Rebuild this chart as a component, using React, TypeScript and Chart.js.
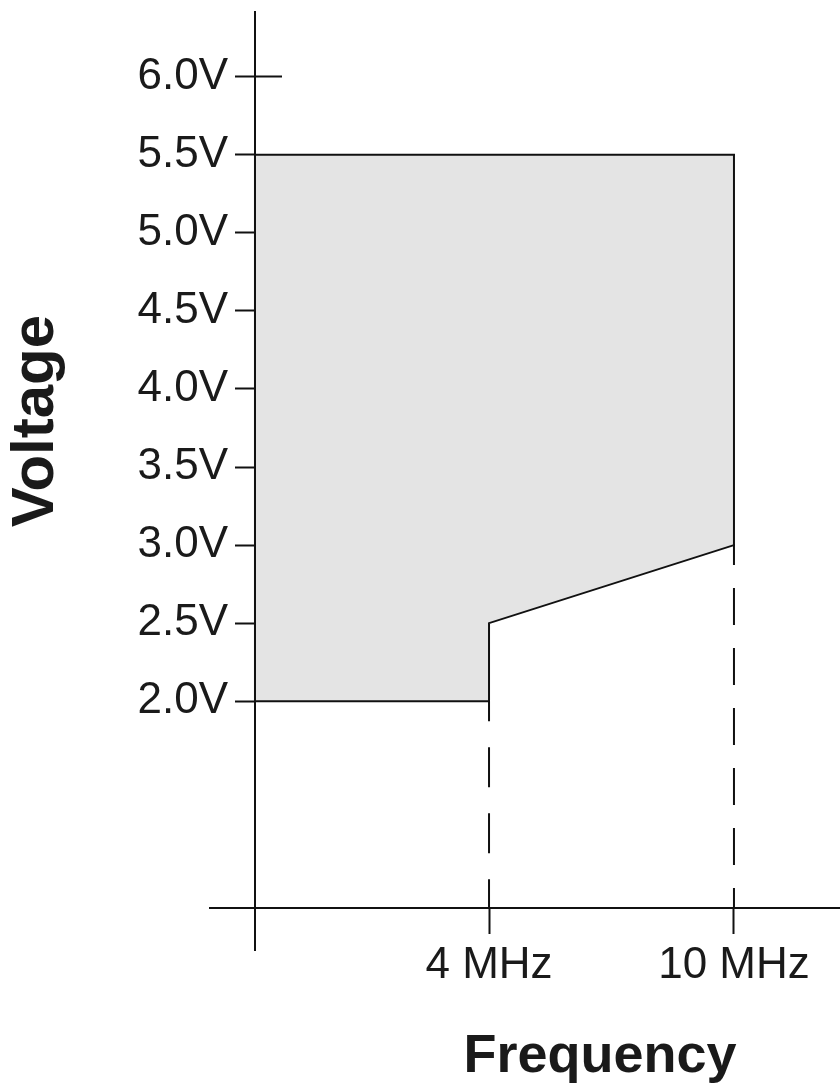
import React, { useEffect, useRef } from 'react';
import { Chart, registerables, LinearScale } from 'chart.js';

// ---------------- data ----------------
const FREQ_TICKS_MHZ = [4, 10];
const VOLT_TICKS = [2.0, 2.5, 3.0, 3.5, 4.0, 4.5, 5.0, 5.5, 6.0];
// safe operating area outline (MHz, V), closed polygon
const AREA_FREQ = [0, 4, 4, 10, 10, 0, 0];
const AREA_VOLT = [2.0, 2.0, 2.5, 3.0, 5.5, 5.5, 2.0];
// dashed guides from the area corners down to the frequency axis
const GUIDE_FREQ = [4, 10];
const GUIDE_VOLT = [2.0, 3.0];
// voltage tick that also crosses to the right of the axis
const CROSS_TICK_VOLT = [6.0];
const X_TITLE = 'Frequency';
const Y_TITLE = 'Voltage';

// ---------------- scale configuration ----------------
const Y_MIN = 0.406;
const Y_MAX = 6.415;
const X_AXIS_AT_VOLT = 0.675; // where the frequency axis crosses the voltage scale
const CROSS_TICK_AT_MHZ = 0.46; // right end of the crossing 6.0V tick
const LABEL_ANCHOR_MHZ = -0.46; // right edge of the voltage tick labels
// schematic (not to scale) frequency axis: value -> fraction of axis length
const X_KNOTS = [
  { value: 0, at: 0.0714 },
  { value: 4, at: 0.4429 },
  { value: 10, at: 0.8317 },
];

const FONT = '"Liberation Sans", Arial, Helvetica, sans-serif';
const TEXT_COLOR = '#1a1a1a';
const LINE_COLOR = '#111111';
const FILL_COLOR = '#e4e4e4';
const GUIDE_DASHES = [[40, 26], [37, 23]];
const GUIDE_OFFSETS = [20, 17];

class SchematicScale extends (LinearScale as any) {
  static id = 'schematic';
  static defaults = (LinearScale as any).defaults;

  getPixelForValue(value: any) {
    if (value === null || value === undefined || isNaN(value)) return NaN;
    const k = X_KNOTS;
    let i = 0;
    while (i < k.length - 2 && value > k[i + 1].value) i++;
    const a = k[i];
    const b = k[i + 1];
    const d = a.at + ((value - a.value) / (b.value - a.value)) * (b.at - a.at);
    return (this as any).getPixelForDecimal(d);
  }

  getValueForPixel(pixel: number) {
    const d = (this as any).getDecimalForPixel(pixel);
    const k = X_KNOTS;
    let i = 0;
    while (i < k.length - 2 && d > k[i + 1].at) i++;
    const a = k[i];
    const b = k[i + 1];
    return a.value + ((d - a.at) / (b.at - a.at)) * (b.value - a.value);
  }
}

Chart.register(...registerables);
Chart.register(SchematicScale as any);

const axisTitles = {
  id: 'axisTitles',
  afterDraw(chart: any) {
    const { ctx } = chart;
    ctx.save();
    ctx.fillStyle = TEXT_COLOR;
    ctx.textAlign = 'center';
    ctx.textBaseline = 'alphabetic';
    ctx.font = `bold 54px ${FONT}`;
    ctx.fillText(X_TITLE, 600, 1072);
    ctx.translate(53, 421);
    ctx.rotate(-Math.PI / 2);
    ctx.font = `bold 60px ${FONT}`;
    ctx.fillText(Y_TITLE, 0, 0);
    ctx.restore();
  },
};

const voltTicks = (s: any) => {
  s.ticks = VOLT_TICKS.map((v) => ({ value: v }));
};

export default function App() {
  const canvasRef = useRef<HTMLCanvasElement | null>(null);

  useEffect(() => {
    const canvas = canvasRef.current;
    if (!canvas) return;

    const areaData = AREA_FREQ.map((x, i) => ({ x, y: AREA_VOLT[i] }));
    const guides = GUIDE_FREQ.map((f, i) => ({
      label: `${f} MHz guide`,
      data: [
        { x: f, y: GUIDE_VOLT[i] },
        { x: f, y: X_AXIS_AT_VOLT },
      ],
      borderColor: LINE_COLOR,
      borderWidth: 2,
      borderDash: GUIDE_DASHES[i],
      borderDashOffset: GUIDE_OFFSETS[i],
      fill: false,
      pointRadius: 0,
      tension: 0,
      xAxisID: 'x',
      yAxisID: 'y',
    }));

    const chart = new Chart(canvas, {
      type: 'line',
      data: {
        datasets: [
          {
            label: 'Operating area',
            data: areaData,
            borderColor: LINE_COLOR,
            borderWidth: 2,
            borderJoinStyle: 'miter',
            backgroundColor: FILL_COLOR,
            fill: 'shape',
            pointRadius: 0,
            tension: 0,
            xAxisID: 'x',
            yAxisID: 'y',
          } as any,
          ...(guides as any[]),
        ],
      },
      options: {
        responsive: false,
        animation: false,
        devicePixelRatio: 1,
        events: [],
        layout: { padding: { top: 12, bottom: 140, left: 210, right: 0 } },
        plugins: {
          legend: { display: false },
          tooltip: { enabled: false },
          title: { display: false },
        },
        scales: {
          x: {
            type: 'schematic' as any,
            position: { y: X_AXIS_AT_VOLT } as any,
            min: 0,
            max: 10,
            afterBuildTicks: (s: any) => {
              s.ticks = FREQ_TICKS_MHZ.map((v) => ({ value: v }));
            },
            ticks: {
              callback: (v: any) => `${v} MHz`,
              font: { family: FONT, size: 44 },
              color: TEXT_COLOR,
              padding: 6,
              autoSkip: false,
              maxRotation: 0,
              minRotation: 0,
            },
            grid: {
              drawOnChartArea: false,
              drawTicks: true,
              tickLength: 25,
              tickWidth: 2,
              tickColor: LINE_COLOR,
            },
            border: { display: true, color: LINE_COLOR, width: 2, z: 1 },
          } as any,
          y: {
            type: 'linear',
            position: { x: LABEL_ANCHOR_MHZ } as any,
            min: Y_MIN,
            max: Y_MAX,
            afterBuildTicks: voltTicks,
            afterFit: (s: any) => {
              s.paddingTop = 0;
              s.paddingBottom = 0;
            },
            ticks: {
              callback: (v: any) => `${Number(v).toFixed(1)}V`,
              font: { family: FONT, size: 44 },
              color: TEXT_COLOR,
              padding: 0,
              autoSkip: false,
            },
            grid: { display: false, drawTicks: false },
            border: { display: false },
          } as any,
          yAxis: {
            type: 'linear',
            position: { x: 0 } as any,
            min: Y_MIN,
            max: Y_MAX,
            afterBuildTicks: voltTicks,
            ticks: { display: false },
            grid: {
              drawOnChartArea: false,
              drawTicks: true,
              tickLength: 19,
              tickWidth: 2,
              tickColor: LINE_COLOR,
            },
            border: { display: true, color: LINE_COLOR, width: 2, z: 1 },
          } as any,
          yCross: {
            type: 'linear',
            position: { x: CROSS_TICK_AT_MHZ } as any,
            min: Y_MIN,
            max: Y_MAX,
            afterBuildTicks: (s: any) => {
              s.ticks = CROSS_TICK_VOLT.map((v) => ({ value: v }));
            },
            ticks: { display: false },
            grid: {
              drawOnChartArea: false,
              drawTicks: true,
              tickLength: 27,
              tickWidth: 2,
              tickColor: LINE_COLOR,
            },
            border: { display: false },
          } as any,
        },
      },
      plugins: [axisTitles],
    } as any);

    return () => chart.destroy();
  }, []);

  return (
    <div style={{ position: 'absolute', left: 0, top: 0, width: 840, height: 1090, background: '#ffffff' }}>
      <canvas ref={canvasRef} width={840} height={1090} style={{ display: 'block' }} />
    </div>
  );
}
